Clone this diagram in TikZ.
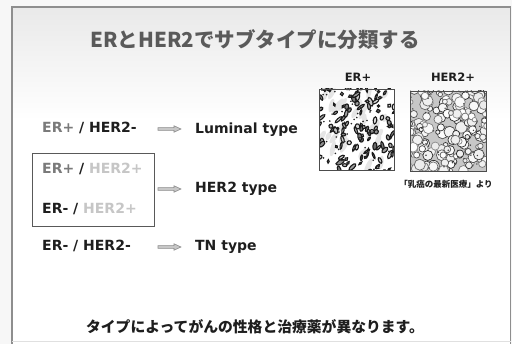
\documentclass[tikz,border=0pt]{standalone}
\usepackage{fontspec}
\setmainfont{DejaVu Sans}
\newfontfamily\jpfont{Noto Sans CJK JP}
\definecolor{inkdark}{HTML}{1E1E1E}
\definecolor{midgray}{HTML}{7A7A7A}
\definecolor{palegray}{HTML}{C6C6C6}
\definecolor{titlegray}{HTML}{5A5A5A}
\definecolor{framegray}{HTML}{8E8E8E}
\definecolor{slidetop}{HTML}{E9E9E9}
\begin{document}
\begin{tikzpicture}[x=1pt,y=-1pt,
  rowlabel/.style={anchor=base west, inner sep=0pt, text=inkdark,
    font=\bfseries\fontsize{14}{16}\selectfont},
  typelabel/.style={rowlabel},
  piclabel/.style={anchor=base, inner sep=0pt, text=inkdark,
    font=\bfseries\fontsize{11.5}{13}\selectfont},
  hollowarrow/.style={draw=black!45, fill=black!22, line width=0.6pt, line join=miter},
  panel/.style={draw=black!70, line width=0.6pt, inner sep=0pt}]
\useasboundingbox (0,0) rectangle (512,344);

% slide background and frame
\fill[black!3] (0,0) rectangle (512,344);
\fill[white] (12,7) rectangle (511,344);
\shade[top color=slidetop, bottom color=white] (12,7) rectangle (511,120);
\draw[framegray, line width=1.1pt] (12,344) -- (12,7) -- (510.5,7) -- (510.5,344);
\draw[black!12, line width=0.6pt] (12,341.5) -- (510.5,341.5);

% title
\node[anchor=base, inner sep=0pt, text=titlegray,
  font=\jpfont\bfseries\fontsize{20.5}{24}\selectfont] (title) at (255,48)
  {ERとHER2でサブタイプに分類する};

% receptor status rows
\node[rowlabel] (r1) at (42,133) {{\color{midgray}ER+} / HER2-};
\node[draw=black!65, line width=0.7pt, fill=white, minimum width=122pt,
  minimum height=73pt, inner sep=0pt, anchor=north west] (grp) at (32,153) {};
\node[rowlabel] (r2) at (42,174) {{\color{midgray}ER+} / {\color{palegray}HER2+}};
\node[rowlabel] (r3) at (42,214) {ER- / {\color{palegray}HER2+}};
\node[rowlabel] (r4) at (42,251) {ER- / HER2-};

% resulting subtypes
\node[typelabel] (t1) at (195,134) {Luminal type};
\node[typelabel] (t2) at (195,193) {HER2 type};
\node[typelabel] (t3) at (195,251) {TN type};

% hollow block arrows, each drawn from its start coordinate
\coordinate (a1s) at (158,129);
\coordinate (a2s) at (158,189);
\coordinate (a3s) at (158,247);
\foreach \s in {a1s,a2s,a3s}
  \draw[hollowarrow] (\s) ++(0,-1.4) -- ++(16,0) -- ++(0,-1.8) -- ++(7,3.2)
    -- ++(-7,3.2) -- ++(0,-1.8) -- ++(-16,0) -- cycle;

% ER+ stained section
\node[piclabel] (erlab) at (358,82) {ER+};
\begin{scope}
  \clip (319,89) rectangle (394,170);
  \fill[white] (319,89) rectangle (394,170);
  \pgfmathsetseed{11}
  \foreach \i in {1,...,30} {
    \pgfmathsetmacro\px{319+rnd*75}
    \pgfmathsetmacro\py{89+rnd*81}
    \pgfmathsetmacro\rot{50+rnd*40}
    \pgfmathsetmacro\ra{4+rnd*6}
    \fill[black!10, rotate around={\rot:(\px,\py)}]
      (\px,\py) ellipse [x radius=\ra pt, y radius=2.5pt];
  }
  \foreach \i in {1,...,120} {
    \pgfmathsetmacro\px{317+rnd*79}
    \pgfmathsetmacro\py{87+rnd*85}
    \pgfmathsetmacro\rot{30+rnd*90}
    \pgfmathsetmacro\ra{1.2+rnd*3.4}
    \pgfmathsetmacro\rb{0.8+rnd*1.5}
    \pgfmathsetmacro\sh{10+rnd*50}
    \filldraw[draw=black!90, fill=black!\sh, line width=1.1pt,
      rotate around={\rot:(\px,\py)}]
      (\px,\py) ellipse [x radius=\ra pt, y radius=\rb pt];
  }
  \foreach \i in {1,...,50} {
    \pgfmathsetmacro\px{319+rnd*75}
    \pgfmathsetmacro\py{89+rnd*81}
    \fill[black!85] (\px,\py) circle [radius=0.9pt];
  }
\end{scope}
\node[panel, minimum width=75pt, minimum height=81pt, anchor=north west]
  (erpic) at (319,89) {};

% HER2+ stained section
\node[piclabel] (herlab) at (453,82) {HER2+};
\begin{scope}
  \clip (410,91) rectangle (486,171);
  \fill[black!22] (410,91) rectangle (486,171);
  \pgfmathsetseed{5}
  \foreach \i in {1,...,170} {
    \pgfmathsetmacro\px{408+rnd*80}
    \pgfmathsetmacro\py{89+rnd*84}
    \pgfmathsetmacro\rr{2+rnd*3.8}
    \pgfmathsetmacro\sh{45+rnd*40}
    \pgfmathsetmacro\fl{rnd*8}
    \filldraw[draw=black!\sh, fill=black!\fl, line width=0.7pt]
      (\px,\py) circle [radius=\rr pt];
  }
  \foreach \i in {1,...,35} {
    \pgfmathsetmacro\px{410+rnd*76}
    \pgfmathsetmacro\py{91+rnd*80}
    \fill[black!75] (\px,\py) circle [radius=0.8pt];
  }
\end{scope}
\node[panel, minimum width=76pt, minimum height=80pt, anchor=north west]
  (herpic) at (410,91) {};

% source note
\node[anchor=base, inner sep=0pt, text=inkdark,
  font=\jpfont\bfseries\fontsize{8.5}{10}\selectfont] (src) at (446,188)
  {「乳癌の最新医療」より};

% closing remark
\node[anchor=base, inner sep=0pt, text=inkdark,
  font=\jpfont\bfseries\fontsize{14.8}{18}\selectfont] (note) at (255,333)
  {タイプによってがんの性格と治療薬が異なります。};
\end{tikzpicture}
\end{document}
